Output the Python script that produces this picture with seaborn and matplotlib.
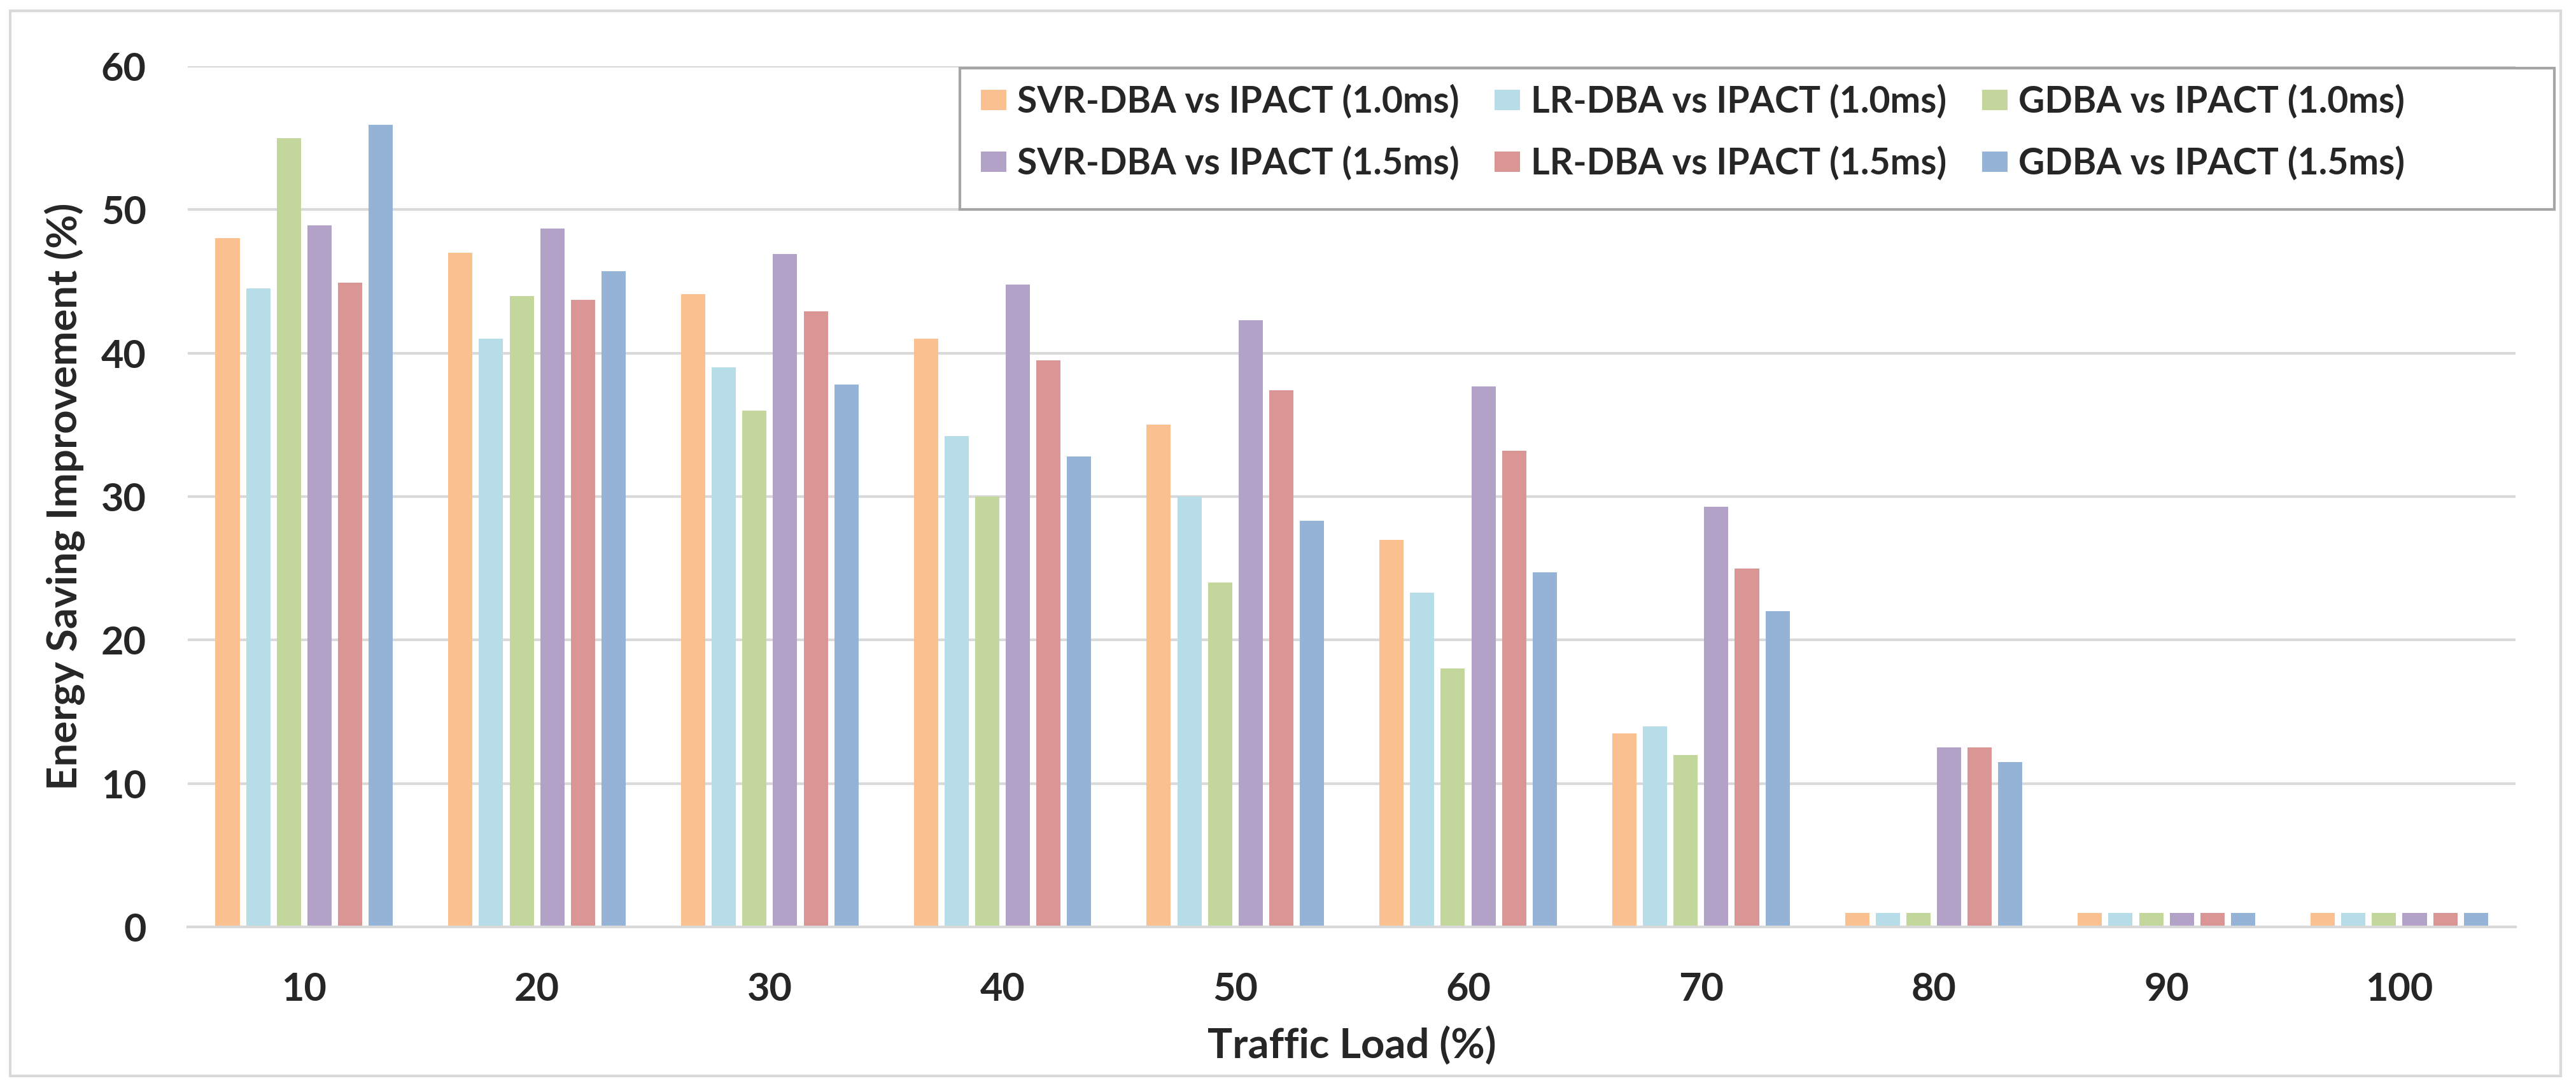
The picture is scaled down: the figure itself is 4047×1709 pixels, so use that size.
import pandas as pd
import seaborn as sns
import matplotlib.pyplot as plt
from matplotlib.patches import Patch, Rectangle

# traffic load categories
loads = ['10', '20', '30', '40', '50', '60', '70', '80', '90', '100']

# energy saving improvement (%) per scheme
svr_10 = [48.0, 47.0, 44.1, 41.0, 35.0, 27.0, 13.5, 1.0, 1.0, 1.0]
lr_10 = [44.5, 41.0, 39.0, 34.2, 30.0, 23.3, 14.0, 1.0, 1.0, 1.0]
gdba_10 = [55.0, 44.0, 36.0, 30.0, 24.0, 18.0, 12.0, 1.0, 1.0, 1.0]
svr_15 = [48.9, 48.7, 46.9, 44.8, 42.3, 37.7, 29.3, 12.5, 1.0, 1.0]
lr_15 = [44.9, 43.7, 42.9, 39.5, 37.4, 33.2, 25.0, 12.5, 1.0, 1.0]
gdba_15 = [55.9, 45.7, 37.8, 32.8, 28.3, 24.7, 22.0, 11.5, 1.0, 1.0]

series_names = ['SVR-DBA vs IPACT (1.0ms)', 'LR-DBA vs IPACT (1.0ms)', 'GDBA vs IPACT (1.0ms)',
                'SVR-DBA vs IPACT (1.5ms)', 'LR-DBA vs IPACT (1.5ms)', 'GDBA vs IPACT (1.5ms)']
series_vals = [svr_10, lr_10, gdba_10, svr_15, lr_15, gdba_15]
colors = ['#FAC090', '#B7DEE8', '#C3D69B', '#B3A2C7', '#D99694', '#95B3D7']

rows = []
for name, vals in zip(series_names, series_vals):
    for load, v in zip(loads, vals):
        rows.append({'load': load, 'scheme': name, 'value': v})
df = pd.DataFrame(rows)

sns.set_theme(style='white')
plt.rcParams['font.family'] = ['Lato', 'DejaVu Sans']
plt.rcParams['font.weight'] = 'bold'

fig = plt.figure(figsize=(40.47, 17.09), dpi=100)
ax = fig.add_axes([0.0729, 0.1480, 0.9037, 0.7911])

sns.barplot(data=df, x='load', y='value', hue='scheme', order=loads, hue_order=series_names,
            palette=colors, saturation=1, width=0.79, gap=0.21, linewidth=0, legend=False, ax=ax)

ax.set_ylim(0, 60)
ax.set_yticks(range(0, 61, 10))
ax.grid(axis='y', color='#D9D9D9', linewidth=3)
ax.set_axisbelow(True)
for s in ['top', 'right', 'left']:
    ax.spines[s].set_visible(False)
ax.spines['bottom'].set_color('#D9D9D9')
ax.spines['bottom'].set_linewidth(3)

ax.tick_params(axis='y', length=0, pad=47, labelsize=44)
ax.tick_params(axis='x', length=0, pad=50, labelsize=44)
for lab in ax.get_xticklabels() + ax.get_yticklabels():
    lab.set_fontweight('bold')

ax.set_xlabel('Traffic Load (%)', fontsize=47, fontweight='bold')
ax.set_ylabel('Energy Saving Improvement (%)', fontsize=47, fontweight='bold')
ax.xaxis.set_label_coords(0.5, -0.115)
ax.yaxis.set_label_coords(-0.044, 0.5)

# legend box (drawn separately so its size matches the original)
fig.patches.append(Rectangle((1508 / 4047, 1 - 329 / 1709), (4013 - 1508) / 4047, (329 - 107) / 1709,
                             transform=fig.transFigure, facecolor='white', edgecolor='#A6A6A6',
                             linewidth=3, zorder=2))

# legend: row 1 = 1.0ms, row 2 = 1.5ms (matplotlib fills by column)
order = [0, 3, 1, 4, 2, 5]
handles = [Patch(facecolor=colors[i], edgecolor='none') for i in order]
labels = [series_names[i] for i in order]
leg = fig.legend(handles, labels, ncol=3, loc='upper left', bbox_to_anchor=(1541 / 4047, 1 - 133 / 1709),
                 fontsize=41, frameon=False,
                 handlelength=0.7, handleheight=0.5, handletextpad=0.3,
                 columnspacing=0.98, labelspacing=0.75, borderpad=0, borderaxespad=0)
for t in leg.get_texts():
    t.set_fontweight('bold')

# outer chart border
fig.patches.append(Rectangle((16 / 4047, 1 - 1690 / 1709), (4023 - 16) / 4047, (1690 - 17) / 1709,
                             transform=fig.transFigure, fill=False, edgecolor='#D9D9D9', linewidth=3))

fig.savefig('out.png', dpi=100)
